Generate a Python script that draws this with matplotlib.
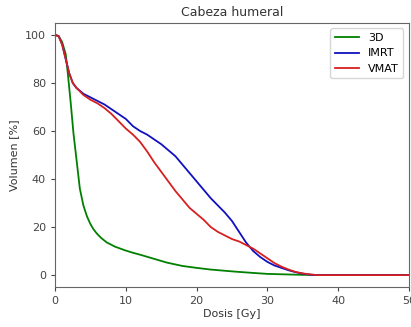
import matplotlib
matplotlib.use("Agg")
import matplotlib.pyplot as plt
import numpy as np

dose_3d = [0, 0.5, 1, 1.5, 1.8, 2.2, 2.6, 3.07, 3.5, 4.0, 4.5, 4.95, 5.4, 5.9, 6.5, 7.3, 8.5, 9.9, 11,
           12, 13.5, 15.8, 18, 20, 22, 25.2, 28, 30, 35, 40, 45, 50]
vol_3d = [100, 99.5, 97, 92, 84, 72, 59, 47, 36, 29, 24.5, 21.5, 19.2, 17.3, 15.5, 13.6, 11.8, 10.3, 9.3,
          8.5, 7.2, 5.2, 3.8, 3.0, 2.3, 1.5, 0.9, 0.5, 0.1, 0, 0, 0]

dose_imrt = [0, 0.5, 1, 1.5, 2, 2.5, 3, 4, 5, 6, 7, 8, 9, 10, 11, 12, 13, 14, 15, 16, 17, 18, 19, 20,
             21, 22, 23, 24, 25, 26, 27, 28, 29, 30, 31, 32, 33, 34, 35, 36, 37, 40, 45, 50]
vol_imrt = [100, 99.5, 96, 90, 84, 80, 78, 75.5, 74, 72.5, 71, 69, 67, 65, 62, 60, 58.5, 56.5, 54.5, 52,
            49.5, 46, 42.5, 39, 35.5, 32, 29, 26, 22.5, 18, 13.5, 10, 7.5, 5.5, 4, 3, 2, 1.2, 0.6, 0.2, 0, 0, 0, 0]

dose_vmat = [0, 0.5, 1, 1.5, 2, 2.5, 3, 4, 5, 6, 7, 8, 9, 10, 11, 12, 13, 14, 15, 16, 17, 18, 19, 20,
             21, 22, 23, 24, 25, 26, 27, 28, 29, 30, 31, 32, 33, 34, 35, 36, 37, 40, 45, 50]
vol_vmat = [100, 99.5, 96, 90, 84, 80, 78, 75, 73, 71.5, 69.5, 67, 64, 61, 58.5, 55.5, 51.5, 47, 43, 39,
            35, 31.5, 28, 25.5, 23, 20, 18, 16.5, 15, 14, 12.5, 11, 9, 7, 5, 3.5, 2.3, 1.3, 0.7, 0.3, 0, 0, 0, 0]

labels = ["3D", "IMRT", "VMAT"]
colors = ["green", "#1010c0", "#d62020"]

fig = plt.figure(figsize=(4.11, 3.27), dpi=100)
ax = fig.add_axes([0.134, 0.122, 0.861, 0.808])
for d, v, lab, c in zip([dose_3d, dose_imrt, dose_vmat], [vol_3d, vol_imrt, vol_vmat], labels, colors):
    ax.plot(d, v, color=c, label=lab, lw=1.3)
ax.set_xlim(0, 50)
ax.set_ylim(-5, 105)
ax.set_xticks([0, 10, 20, 30, 40, 50])
ax.set_yticks([0, 20, 40, 60, 80, 100])
ax.set_xlabel("Dosis [Gy]", fontsize=8, color="#333333", labelpad=2)
ax.set_ylabel("Volumen [%]", fontsize=8, color="#333333", labelpad=4)
ax.set_title("Cabeza humeral", fontsize=9, color="#333333", pad=5)
ax.tick_params(labelsize=8, colors="#444444", length=3)
for s in ax.spines.values():
    s.set_color("#666666")
ax.legend(loc="upper right", fontsize=8, handlelength=2.2, frameon=True)
fig.savefig("out.png", dpi=100)
